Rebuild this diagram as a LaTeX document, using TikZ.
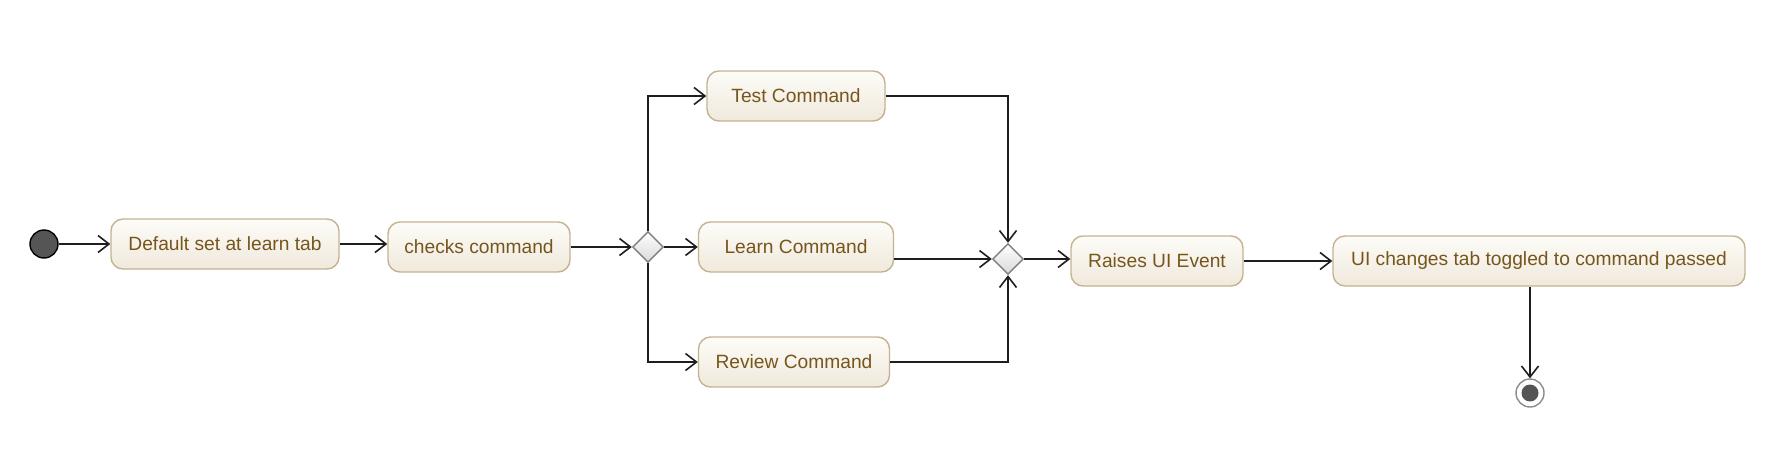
\documentclass[tikz,border=0pt]{standalone}
\usepackage{fontspec}
\setmainfont{Liberation Sans}
\usetikzlibrary{shapes.geometric, arrows.meta, calc, positioning}
\definecolor{boxborder}{HTML}{C4B393}
\definecolor{boxtop}{HTML}{FDFCF8}
\definecolor{boxbottom}{HTML}{F0E9DC}
\definecolor{boxtext}{HTML}{76561C}
\definecolor{linecol}{HTML}{1E1E1E}
\definecolor{stategray}{HTML}{555555}
\tikzstyle{action} = [rectangle, rounded corners=12pt, text centered, minimum height=50pt,
	draw=boxborder, line width=1.4pt, top color=boxtop, bottom color=boxbottom,
	text=boxtext, font=\fontsize{19.2}{23}\selectfont]
\tikzstyle{decision} = [diamond, minimum width=31pt, minimum height=31pt, inner sep=0pt,
	draw=black!50, line width=1.4pt, top color=white, bottom color=black!15]
\tikzstyle{arrow} = [-{Straight Barb[length=11pt, width=17pt, line width=1.6pt]}, line width=1.6pt, draw=linecol]

\begin{document}
\begin{tikzpicture}[x=1pt, y=-1pt]
	% set up frame
	\useasboundingbox (0,0) rectangle (1768,460);

	% set up nodes
	\node (start) [circle, minimum size=28pt, inner sep=0pt, draw=black, line width=1.4pt, fill=stategray] at (44,244) {};
	\node (default) [action, minimum width=228pt] at (225,244) {Default set at learn tab};
	\node (checks) [action, minimum width=182pt] at (479,247) {checks command};
	\node (split) [decision] at (648,247) {};
	\node (test) [action, minimum width=178pt] at (796,96) {Test Command};
	\node (learn) [action, minimum width=195pt] at (796,247) {Learn Command};
	\node (review) [action, minimum width=191pt] at (794,362) {Review Command};
	\node (merge) [decision] at (1008,259) {};
	\node (raise) [action, minimum width=172pt] at (1157,261) {Raises UI Event};
	\node (ui) [action, minimum width=412pt] at (1539,261) {UI changes tab toggled to command passed};
	\node (end) [circle, minimum size=28pt, inner sep=0pt, draw=black!45, line width=1.4pt, fill=white] at (1530,393) {};
	\fill[stategray] (end) circle (8.5pt);

	% set up arrows
	\draw[arrow] (start) -- (default);
	\draw[arrow] (default.east) -- (default.east -| checks.west);
	\draw[arrow] (checks.east) -- (split.west);
	\draw[arrow] (split.north) |- (test.west);
	\draw[arrow] (split.east) -- (split.east -| learn.west);
	\draw[arrow] (split.south) |- (review.west);
	\draw[arrow] (test.east) -| (merge.north);
	\draw[arrow] (merge -| learn.east) -- (merge.west);
	\draw[arrow] (review.east) -| (merge.south);
	\draw[arrow] (merge.east) -- (merge.east -| raise.west);
	\draw[arrow] (raise.east) -- (raise.east -| ui.west);
	\draw[arrow] (ui.south -| end) -- (end.north);

\end{tikzpicture}
\end{document}
